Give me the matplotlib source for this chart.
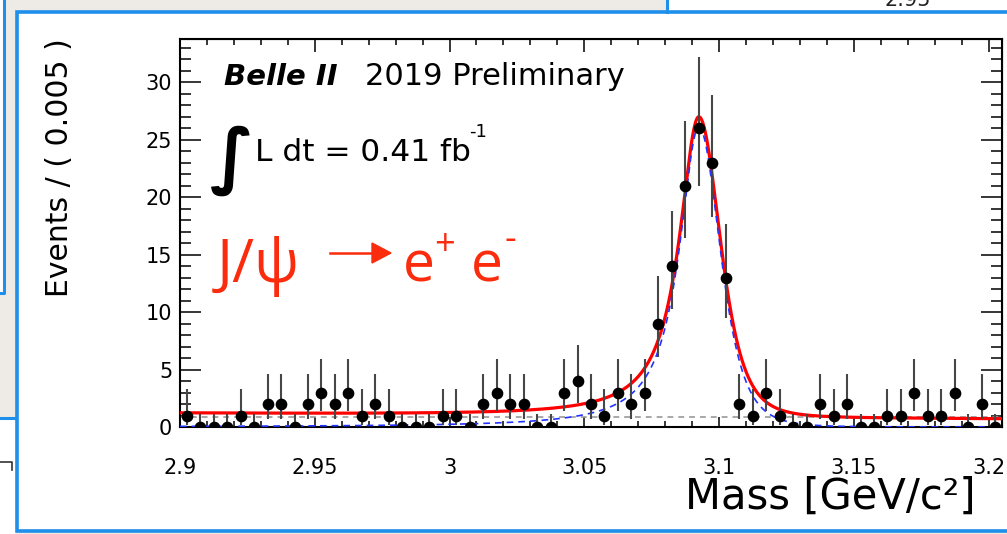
import math
import numpy as np
import matplotlib
matplotlib.use("Agg")
import matplotlib.pyplot as plt
from matplotlib.patches import Rectangle, Polygon
from matplotlib.lines import Line2D
from matplotlib.ticker import FixedLocator, MultipleLocator

# ---- data: e+e- invariant mass, 0.005 GeV/c^2 bins starting at 2.9 ----
bin_start = 2.9
bin_width = 0.005
counts = [1, 0, 0, 0, 1, 0, 2, 2, 0, 2,
          3, 2, 3, 1, 2, 1, 0, 0, 0, 1,
          1, 0, 2, 3, 2, 2, 0, 0, 3, 4,
          2, 1, 3, 2, 3, 9, 14, 21, 26, 23,
          13, 2, 1, 3, 1, 0, 0, 2, 1, 2,
          0, 0, 1, 1, 3, 1, 1, 3, 0, 2,
          0]

# ---- fitted model parameters ----
peak_mass = 3.0925
peak_height = 26.1
gamma_left = 0.0088
gamma_right = 0.0165
power_right = 2.5
bkg_at_low = 1.18
bkg_at_high = 0.72
flat_bkg = 0.85

x_ticks = [2.9, 2.95, 3.0, 3.05, 3.1, 3.15, 3.2]
x_tick_labels = ["2.9", "2.95", "3", "3.05", "3.1", "3.15", "3.2"]
y_ticks = [0, 5, 10, 15, 20, 25, 30]
x_range = (2.9, 3.205)
y_range = (0, 33.75)

W, H = 1007, 534
fig = plt.figure(figsize=(W / 100, H / 100), dpi=100, facecolor="#eeebe7")


def fx(x):
    return x / W


def fy(y):
    return 1 - y / H


BLUE = "#1e8fea"

# ---- slide furniture around the plot (kept underneath the axes) ----
def frect(x0, y0, x1, y1, **kw):
    fig.add_artist(Rectangle((fx(x0), fy(y1)), fx(x1) - fx(x0), fy(y0) - fy(y1),
                             transform=fig.transFigure, zorder=-10, **kw))


def fline(xs, ys, z=-9, **kw):
    fig.add_artist(Line2D([fx(v) for v in xs], [fy(v) for v in ys],
                          transform=fig.transFigure, zorder=z, **kw))


frect(0, 0, 4, 293, facecolor="white", edgecolor="none")
fline([4, 4, 0], [0, 293, 293], color=BLUE, lw=2.2)
frect(0, 419, 16, 534, facecolor="white", edgecolor="none")
fline([0, 16], [418, 418], color=BLUE, lw=2.2)
fline([0, 12, 12], [462, 462, 470], color="#333333", lw=1.2)
frect(667, 0, 1007, 12, facecolor="white", edgecolor="none")
fline([667, 667], [0, 12], color=BLUE, lw=2.2)
fig.text(fx(884), fy(6), "2.95", fontsize=15, color="#222222", ha="left", va="baseline")

# main panel
frect(16.5, 12, 1030, 531, facecolor="white", edgecolor=BLUE, lw=2.6)

# ---- axes ----
ax = fig.add_axes([fx(180), fy(427), fx(1002) - fx(180), fy(39) - fy(427)])
ax.set_zorder(5)
ax.set_facecolor("white")
ax.set_xlim(*x_range)
ax.set_ylim(*y_range)

centers = np.array([bin_start + bin_width * (i + 0.5) for i in range(len(counts))])
vals = np.array(counts, dtype=float)


def poisson_interval(n, cl=0.682689):
    if n == 0:
        return 0.0, -math.log(1 - cl)
    alpha = (1 - cl) / 2

    def cdf(k, mu):
        term = math.exp(-mu)
        s = term
        for i in range(1, k + 1):
            term *= mu / i
            s += term
        return s

    def solve(f, target, lo, hi):
        for _ in range(80):
            mid = 0.5 * (lo + hi)
            if f(mid) > target:
                lo = mid
            else:
                hi = mid
        return 0.5 * (lo + hi)

    up = solve(lambda m: cdf(n, m), alpha, 0.0, n + 10 * math.sqrt(n) + 10)
    lo = solve(lambda m: cdf(n - 1, m), 1 - alpha, 0.0, n + 10)
    return lo, up


intervals = [poisson_interval(int(n)) for n in counts]
err_lo = vals - np.array([a for a, b in intervals])
err_hi = np.array([b for a, b in intervals]) - vals

# fit curves
xs = np.linspace(x_range[0], x_range[1], 2000)
d = xs - peak_mass
signal = np.where(d < 0,
                  peak_height / (1 + (d / gamma_left) ** 2),
                  peak_height / (1 + (d / gamma_right) ** 2) ** power_right)
bkg = bkg_at_low + (bkg_at_high - bkg_at_low) * (xs - x_range[0]) / (x_range[1] - x_range[0])
total = signal + bkg

ax.axhline(flat_bkg, color="#9a9a9a", lw=1.2, ls=(0, (3.5, 3)), zorder=2)
ax.plot(xs, total, color="#ff0000", lw=2.3, zorder=3)
ax.plot(xs, signal, color="#2233ff", lw=1.2, ls=(0, (4, 3)), zorder=4)
ax.errorbar(centers, vals, yerr=[err_lo, err_hi], fmt="o", color="black",
            ecolor="#474747", elinewidth=1.5, markersize=7.4, capsize=0, zorder=5)

# ticks
ax.xaxis.set_major_locator(FixedLocator(x_ticks))
ax.set_xticklabels(x_tick_labels)
ax.xaxis.set_minor_locator(MultipleLocator(0.01))
ax.yaxis.set_major_locator(FixedLocator(y_ticks))
ax.yaxis.set_minor_locator(MultipleLocator(1))
ax.tick_params(axis="x", which="major", direction="in", length=7.5, width=1.1,
               pad=22, labelsize=15)
ax.tick_params(axis="x", which="minor", direction="in", length=4, width=1.1)
ax.tick_params(axis="y", which="major", direction="in", length=15, width=1.1,
               pad=5.5, labelsize=15)
ax.tick_params(axis="y", which="minor", direction="in", length=8, width=1.1)
for s in ax.spines.values():
    s.set_linewidth(1.5)

top = ax.secondary_xaxis("top")
top.xaxis.set_major_locator(FixedLocator(x_ticks))
top.xaxis.set_minor_locator(MultipleLocator(0.01))
top.tick_params(axis="x", which="major", direction="in", length=9.5, width=1.1, labeltop=False)
top.tick_params(axis="x", which="minor", direction="in", length=4.5, width=1.1)
right = ax.secondary_yaxis("right")
right.yaxis.set_major_locator(FixedLocator(y_ticks))
right.yaxis.set_minor_locator(MultipleLocator(1))
right.tick_params(axis="y", which="major", direction="in", length=15, width=1.1, labelright=False)
right.tick_params(axis="y", which="minor", direction="in", length=8, width=1.1)

# axis titles
fig.text(fx(60), fy(168), "Events / ( 0.005 )", rotation=90, fontsize=21.5,
         ha="center", va="center", zorder=10)
fig.text(fx(976), fy(497), "Mass [GeV/c²]", fontsize=30, ha="right", va="center", zorder=10)

# annotations
ann = dict(ha="left", va="baseline", zorder=10)
fig.text(fx(224), fy(85), "Belle II", fontsize=21, fontweight="bold", fontstyle="italic", **ann)
fig.text(fx(365), fy(85), "2019 Preliminary", fontsize=22, **ann)
fig.text(fx(210), fy(180), "∫", fontsize=52, fontweight="bold", **ann)
fig.text(fx(255), fy(161), "L dt = 0.41 fb", fontsize=22.5, **ann)
fig.text(fx(469), fy(137), "-1", fontsize=13, **ann)

RED = "#fb2b0e"
red_font = ["Open Sans", "DejaVu Sans"]
fig.text(fx(217), fy(282), "J/ψ", fontsize=43, color=RED, family=red_font, **ann)
fline([330, 376], [253, 253], z=10, color=RED, lw=1.8)
fig.add_artist(Polygon([(fx(372), fy(243)), (fx(391), fy(253)), (fx(372), fy(263))],
                       closed=True, transform=fig.transFigure, facecolor=RED,
                       edgecolor=RED, zorder=10))
fig.text(fx(403), fy(282), "e", fontsize=41, color=RED, family=red_font, **ann)
fig.text(fx(434), fy(255), "+", fontsize=26, color=RED, family=red_font, **ann)
fig.text(fx(471), fy(282), "e", fontsize=41, color=RED, family=red_font, **ann)
fig.text(fx(504), fy(250), "-", fontsize=26, color=RED, family=red_font, **ann)

fig.savefig("out.png", dpi=100, facecolor=fig.get_facecolor())
